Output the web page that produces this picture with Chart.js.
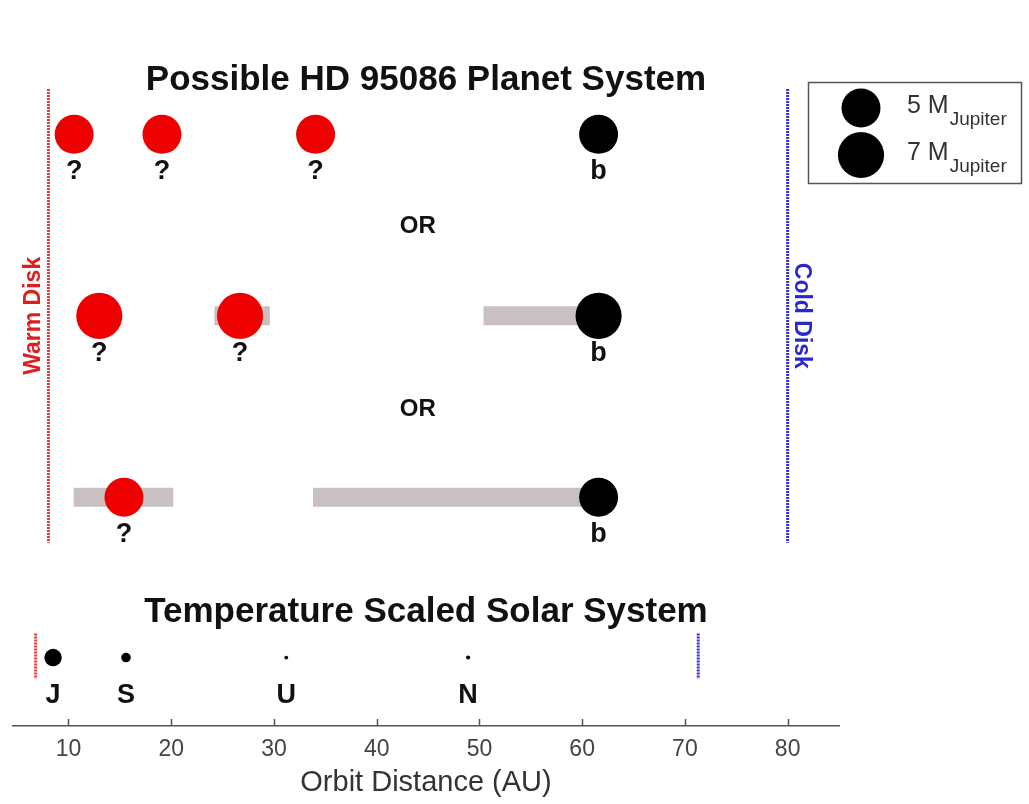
<!DOCTYPE html>
<html><head><meta charset="utf-8">
<script src="https://cdn.jsdelivr.net/npm/chart.js@4"></script>
<style>html,body{margin:0;padding:0;background:#fff;}canvas{display:block;}</style>
</head><body>
<canvas id="c" width="1029" height="804"></canvas>
<script>
// ---------- data ----------
const xTickValues = [10, 20, 30, 40, 50, 60, 70, 80];
const rowIndex = [0, 1, 2];               // three possible configurations (top to bottom)

const row1AU = [10.55, 19.1, 34.05, 61.6];
const row1Mass = [5, 5, 5, 5];
const row1Names = ['?', '?', '?', 'b'];

const row2AU = [13.0, 26.7, 61.6];
const row2Mass = [7, 7, 7];
const row2Names = ['?', '?', 'b'];
const row2Ranges = [[24.2, 29.6], [50.4, 61.6]];

const row3AU = [15.4, 61.6];
const row3Mass = [5, 5];
const row3Names = ['?', 'b'];
const row3Ranges = [[10.5, 20.2], [33.8, 61.6]];

const solarRow = 2.883;
const solarAU = [8.5, 15.6, 31.2, 48.9];
const solarMass = [1, 0.3, 0.046, 0.054];   // Jupiter masses
const solarNames = ['J', 'S', 'U', 'N'];

const warmDiskAU = 8.05, coldDiskAU = 80.0;
const diskSpan = [-0.25, 2.25];
const solarWarmAU = 6.8, solarColdAU = 71.3;
const solarDiskSpan = [2.75, 3.0];

const legendMass = [5, 7];
const legendText = ['5 M', '7 M'];

const titleMain = 'Possible HD 95086 Planet System';
const titleSolar = 'Temperature Scaled Solar System';
const titleRows = [-0.30, 2.632];
const orText = 'OR';
const orAU = 44.0;
const orRows = [0.505, 1.513];

// ---------- styles ----------
const FONT = '"Liberation Sans", Arial, Helvetica, sans-serif';
const RED = 'rgb(238,0,0)';
const GRAY_BAR = 'rgb(201,193,193)';
const radiusFor = m => 8.72 * Math.sqrt(m);
const colorFor = n => (n === 'b' ? '#000000' : RED);

function planetSet(au, mass, names, y, colors) {
  return {
    type: 'scatter', names,
    data: au.map(x => ({x, y})),
    pointRadius: mass.map(radiusFor),
    pointHoverRadius: mass.map(radiusFor),
    pointBackgroundColor: colors || names.map(colorFor),
    pointBorderWidth: 0, showLine: false, order: 1
  };
}
function rangeSets(ranges, y) {
  return ranges.map(r => ({
    type: 'scatter', showLine: true,
    data: r.map(x => ({x, y})),
    borderColor: GRAY_BAR, borderWidth: 19, borderCapStyle: 'butt',
    pointRadius: 0, order: 3
  }));
}
function diskLine(au, span, color) {
  return {
    type: 'scatter', showLine: true,
    data: span.map(y => ({x: au, y})),
    borderColor: color, borderWidth: 3, borderDash: [2, 1], borderCapStyle: 'butt',
    pointRadius: 0, order: 2
  };
}

const datasets = [
  planetSet(row1AU, row1Mass, row1Names, rowIndex[0]),
  planetSet(row2AU, row2Mass, row2Names, rowIndex[1]),
  planetSet(row3AU, row3Mass, row3Names, rowIndex[2]),
  planetSet(solarAU, solarMass, solarNames, solarRow, solarNames.map(() => '#000000')),
  ...rangeSets(row2Ranges, rowIndex[1]),
  ...rangeSets(row3Ranges, rowIndex[2]),
  diskLine(warmDiskAU, diskSpan, 'rgb(228,60,60)'),
  diskLine(coldDiskAU, diskSpan, 'rgb(50,50,215)'),
  diskLine(solarWarmAU, solarDiskSpan, 'rgb(228,60,60)'),
  diskLine(solarColdAU, solarDiskSpan, 'rgb(50,50,215)')
];

const annotate = {
  id: 'annotate',
  afterDatasetsDraw(chart) {
    const ctx = chart.ctx, xs = chart.scales.x, ys = chart.scales.y, area = chart.chartArea;
    ctx.save();
    // inward tick marks
    ctx.strokeStyle = '#555'; ctx.lineWidth = 1.5;
    xTickValues.forEach(v => {
      const px = Math.round(xs.getPixelForValue(v)) + 0.5;
      ctx.beginPath(); ctx.moveTo(px, area.bottom); ctx.lineTo(px, area.bottom - 7); ctx.stroke();
    });
    // planet labels
    ctx.fillStyle = '#111'; ctx.textAlign = 'center'; ctx.textBaseline = 'middle';
    ctx.font = 'bold 27px ' + FONT;
    chart.data.datasets.forEach((ds, i) => {
      if (!ds.names) return;
      chart.getDatasetMeta(i).data.forEach((pt, j) => {
        ctx.fillText(ds.names[j], pt.x, pt.y + 37.5);
      });
    });
    // titles
    const cx = (area.left + area.right) / 2;
    ctx.font = 'bold 35px ' + FONT;
    ctx.fillText(titleMain, cx, ys.getPixelForValue(titleRows[0]));
    ctx.fillText(titleSolar, cx, ys.getPixelForValue(titleRows[1]));
    // OR
    ctx.font = 'bold 24px ' + FONT;
    orRows.forEach(r => ctx.fillText(orText, xs.getPixelForValue(orAU), ys.getPixelForValue(r)));
    // disk labels
    ctx.font = 'bold 23px ' + FONT;
    const midY = ys.getPixelForValue(rowIndex[1]);
    ctx.save(); ctx.translate(xs.getPixelForValue(warmDiskAU) - 15, midY); ctx.rotate(-Math.PI / 2);
    ctx.fillStyle = 'rgb(225,30,30)'; ctx.fillText('Warm Disk', 0, 0); ctx.restore();
    ctx.save(); ctx.translate(xs.getPixelForValue(coldDiskAU) + 14, midY); ctx.rotate(Math.PI / 2);
    ctx.fillStyle = 'rgb(40,40,205)'; ctx.fillText('Cold Disk', 0, 0); ctx.restore();
    // legend
    ctx.strokeStyle = '#555'; ctx.lineWidth = 1.5;
    ctx.strokeRect(808.5, 82.5, 213, 101);
    const ly = [108, 155];
    legendMass.forEach((m, i) => {
      ctx.fillStyle = '#000';
      ctx.beginPath(); ctx.arc(861, ly[i], radiusFor(m), 0, Math.PI * 2); ctx.fill();
      ctx.fillStyle = '#333'; ctx.textAlign = 'left'; ctx.textBaseline = 'alphabetic';
      ctx.font = '25px ' + FONT;
      ctx.fillText(legendText[i], 907, ly[i] + 5);
      const w = ctx.measureText(legendText[i]).width;
      ctx.font = '19px ' + FONT;
      ctx.fillText('Jupiter', 907 + w + 1, ly[i] + 17);
    });
    ctx.restore();
  }
};

new Chart(document.getElementById('c'), {
  type: 'scatter',
  data: {datasets},
  options: {
    responsive: false, animation: false, devicePixelRatio: 1, events: [],
    layout: {autoPadding: false, padding: {left: 13, right: 190, top: 20, bottom: 0}},
    plugins: {legend: {display: false}, tooltip: {enabled: false}, title: {display: false}},
    scales: {
      x: {
        type: 'linear', min: 4.6, max: 85,
        afterBuildTicks: s => { s.ticks = xTickValues.map(v => ({value: v})); },
        afterFit: s => { s.height = 78; s.paddingLeft = 0; s.paddingRight = 0; },
        grid: {display: true, drawOnChartArea: false, drawTicks: false},
        border: {display: true, color: '#555', width: 1.5},
        ticks: {color: '#444', font: {family: FONT, size: 23}, padding: 10, maxRotation: 0, autoSkip: false},
        title: {display: true, text: 'Orbit Distance (AU)', color: '#333',
                font: {family: FONT, size: 29}, padding: {top: 0, bottom: 4}}
      },
      y: {type: 'linear', reverse: true, min: -0.63, max: 3.26, display: false}
    }
  },
  plugins: [annotate]
});
</script>
</body></html>
